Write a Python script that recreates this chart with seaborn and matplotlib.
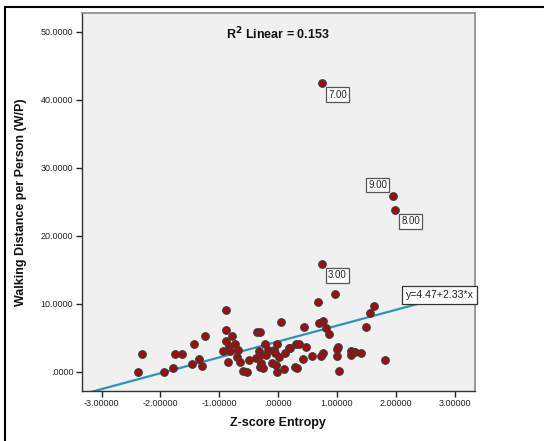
import numpy as np
import pandas as pd
import matplotlib
matplotlib.use("Agg")
import matplotlib.pyplot as plt
from matplotlib.lines import Line2D
import seaborn as sns

# ---- data ----
z_entropy = [-2.39, -2.31, -1.94, -1.78, -1.75, -1.63, -1.46, -1.43, -1.35, -1.29,
             -1.24, -0.88, -0.88, -0.78, -0.89, -0.83, -0.74, -0.94, -0.81, -0.69,
             -0.86, -0.70, -0.64, -0.59, -0.53, -0.49, -0.38, -0.36, -0.31, 0.05,
             -0.32, -0.22, -0.31, -0.20, -0.18, -0.07, -0.02, -0.06, -0.10, 0.02,
             -0.04, 0.12, 0.19, 0.31, 0.36, -0.30, -0.26, -0.29, -0.02, 0.10,
             0.29, 0.32, 0.68, 0.76, 0.70, 0.44, 0.81, 0.87, 1.63, 1.56,
             1.49, 0.20, 0.48, 1.01, 1.00, 0.76, 0.73, 0.57, 0.43, 1.00,
             1.23, 1.31, 1.41, 1.24, 1.81, 1.03, 0.75, 0.97, 0.75, 1.95, 1.99]
walking_distance = [0.00, 2.65, 0.00, 0.59, 2.69, 2.69, 1.18, 4.07, 1.87, 0.88,
                    5.34, 9.12, 6.13, 5.25, 4.56, 3.87, 4.07, 3.13, 3.13, 3.24,
                    1.47, 2.16, 1.43, 0.19, 0.00, 1.76, 2.10, 5.88, 5.88, 7.40,
                    3.09, 4.07, 2.50, 2.46, 3.24, 3.24, 4.07, 2.75, 1.37, 2.25,
                    1.03, 2.75, 3.57, 4.07, 4.12, 0.78, 0.59, 1.37, 0.04, 0.44,
                    0.78, 0.63, 10.25, 7.54, 7.13, 6.57, 6.47, 5.54, 9.75, 8.72,
                    6.65, 3.53, 3.72, 3.63, 3.40, 2.75, 2.35, 2.38, 1.88, 2.35,
                    3.01, 2.90, 2.76, 2.47, 1.69, 0.15, 15.85, 11.43, 42.40, 25.84, 23.78]

case_label_index = [78, 79, 80, 76]
case_label_text = ["7.00", "9.00", "8.00", "3.00"]
case_label_side = [1, -1, 1, 1]

fit_intercept = [4.47]
fit_slope = [2.33]
fit_text = "y=4.47+2.33*x"
r2_text = r"R$^{\mathbf{2}}$ Linear = 0.153"

x_ticks = [-3.0, -2.0, -1.0, 0.0, 1.0, 2.0, 3.0]
x_tick_labels = ["-3.00000", "-2.00000", "-1.00000", ".00000", "1.00000", "2.00000", "3.00000"]
y_ticks = [0.0, 10.0, 20.0, 30.0, 40.0, 50.0]
y_tick_labels = [".0000", "10.0000", "20.0000", "30.0000", "40.0000", "50.0000"]

x_label = "Z-score Entropy"
y_label = "Walking Distance per Person (W/P)"

df = pd.DataFrame({"z": z_entropy, "w": walking_distance})

# ---- figure ----
sns.set_theme(style="white")
plt.rcParams["font.family"] = ["Liberation Sans", "DejaVu Sans"]

fig = plt.figure(figsize=(5.44, 4.41), dpi=100)
ax = fig.add_axes([0.150, 0.1134, 0.7226, 0.8578])
ax.set_facecolor("#f0f0f0")

ax.set_xlim(-3.34, 3.34)
ax.set_ylim(-2.8, 52.8)

# fit line across full x range
xl = np.array(ax.get_xlim())
yl = fit_intercept[0] + fit_slope[0] * xl
ax.plot(xl, yl, color="#2e93b6", lw=1.6, zorder=2)

sns.scatterplot(data=df, x="z", y="w", ax=ax, s=30, color="#a00d0d",
                edgecolor="#3a3a3a", linewidth=0.8, zorder=3, legend=False)

# case labels
for idx, txt, side in zip(case_label_index, case_label_text, case_label_side):
    ax.annotate(txt, (z_entropy[idx], walking_distance[idx]),
                xytext=(side * 11, -side * 8), textcoords="offset points",
                ha="center", va="center", fontsize=7, color="#222222",
                bbox=dict(boxstyle="square,pad=0.25", fc="white", ec="#555555", lw=0.9),
                zorder=4)

# equation box (covers the end of the fit line up to the right spine)
ax.text(3.32, 11.3, fit_text, ha="right", va="center", fontsize=7.6, color="#222222",
        bbox=dict(boxstyle="square,pad=0.35", fc="white", ec="#333333", lw=0.9),
        zorder=5, clip_on=False)

ax.text(0.5, 0.944, r2_text, transform=ax.transAxes, ha="center", va="center",
        fontsize=9, fontweight="bold", color="#111111")

ax.set_xticks(x_ticks)
ax.set_xticklabels(x_tick_labels)
ax.set_yticks(y_ticks)
ax.set_yticklabels(y_tick_labels)
ax.tick_params(axis="both", which="major", direction="out", length=4, width=1,
               color="#222222", labelsize=6.5, labelcolor="#222222", pad=2,
               bottom=True, left=True)

ax.set_xlabel(x_label, fontsize=9, fontweight="bold", color="#111111", labelpad=6)
ax.set_ylabel(y_label, fontsize=9, fontweight="bold", color="#111111", labelpad=10)

for s in ["top", "right"]:
    ax.spines[s].set_color("#8a8a8a")
    ax.spines[s].set_linewidth(1.2)
for s in ["left", "bottom"]:
    ax.spines[s].set_color("#333333")
    ax.spines[s].set_linewidth(1.0)

# outer frame (left and top edges visible)
fig.add_artist(Line2D([5 / 544, 5 / 544], [0, 1 - 6.5 / 441], transform=fig.transFigure,
                      color="black", lw=1.5))
fig.add_artist(Line2D([5 / 544, 1], [1 - 6.5 / 441, 1 - 6.5 / 441], transform=fig.transFigure,
                      color="black", lw=1.5))

fig.savefig("out.png", dpi=100)
